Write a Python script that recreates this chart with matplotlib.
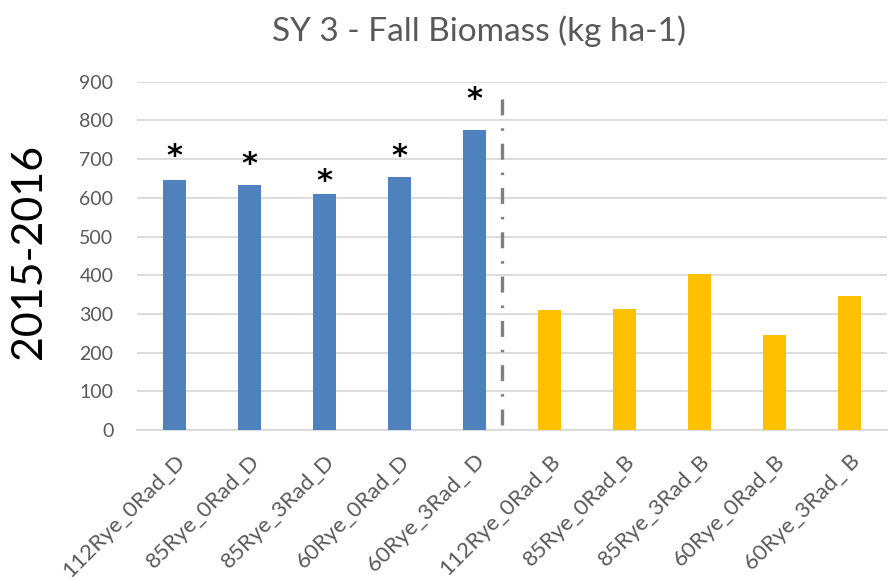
import matplotlib
matplotlib.use("Agg")
import matplotlib.pyplot as plt
import numpy as np

# Data
categories = ["112Rye_0Rad_D", "85Rye_0Rad_D", "85Rye_3Rad_D", "60Rye_0Rad_D", "60Rye_3Rad_ D",
              "112Rye_0Rad_B", "85Rye_0Rad_B", "85Rye_3Rad_B", "60Rye_0Rad_B", "60Rye_3Rad_ B"]
drilled = [645, 633, 610, 655, 775]
broadcast = [310, 313, 403, 245, 347]
star_y = [707, 687, 643, 707, 853]   # where the * marks sit

blue = "#4F81BD"
gold = "#FFC000"
grey_txt = "#595959"

plt.rcParams["font.family"] = ["Lato", "DejaVu Sans"]

fig = plt.figure(figsize=(8.88, 5.8), dpi=100)
ax = fig.add_axes([0.1543, 0.2586, 0.845, 0.6004])

x = np.arange(len(categories))
n_d = len(drilled)
ax.bar(x[:n_d], drilled, width=0.31, color=blue, zorder=3)
ax.bar(x[n_d:], broadcast, width=0.31, color=gold, zorder=3)

for xi, yi in zip(x[:n_d], star_y):
    ax.text(xi, yi, "*", ha="center", va="center", fontsize=22, fontweight="bold",
            color="black", family="DejaVu Sans", zorder=4)

# dash-dot separator between the two groups
lw = 2.4
ax.axvline(4.37, ymin=0.014, ymax=0.985, color="#808080", lw=lw,
           linestyle=(0, (11.5 / lw, 9.3 / lw, 1.8 / lw, 9.3 / lw)), zorder=4)

ax.set_xlim(-0.5, len(categories) - 0.5)
ax.set_ylim(0, 900)
ax.set_yticks(np.arange(0, 901, 100))
ax.yaxis.grid(True, color="#D9D9D9", lw=1.3, zorder=0)
ax.set_axisbelow(True)
for s in ["top", "right", "left"]:
    ax.spines[s].set_visible(False)
ax.spines["bottom"].set_color("#D9D9D9")
ax.spines["bottom"].set_linewidth(1.3)

ax.tick_params(axis="both", length=0, labelcolor=grey_txt)
ax.tick_params(axis="y", pad=17, labelsize=14)
ax.set_xticks(x)
ax.set_xticklabels(categories, rotation=45, ha="right", rotation_mode="anchor")
ax.tick_params(axis="x", pad=15, labelsize=16)

fig.text(0.539, 0.946, "SY 3 - Fall Biomass (kg ha-1)", ha="center", va="center",
         fontsize=24, color=grey_txt)
fig.text(0.033, 0.567, "2015-2016", rotation=90, ha="center", va="center",
         fontsize=31, color="black")

fig.savefig("out.png", dpi=100)
